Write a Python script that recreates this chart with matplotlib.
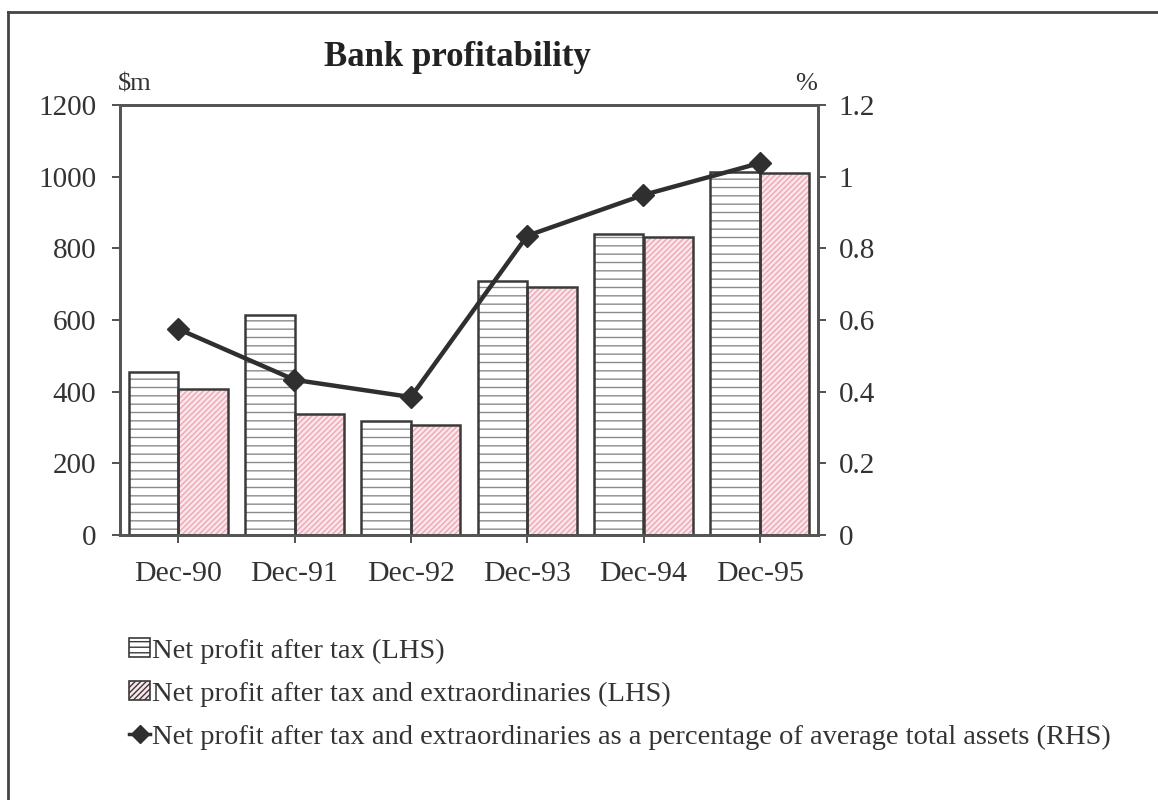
import numpy as np
import matplotlib
matplotlib.use('Agg')
import matplotlib.pyplot as plt
from matplotlib.patches import Patch
from matplotlib.lines import Line2D

plt.rcParams['font.family'] = ['Liberation Serif', 'DejaVu Serif']
plt.rcParams['hatch.linewidth'] = 1.0

categories = ['Dec-90', 'Dec-91', 'Dec-92', 'Dec-93', 'Dec-94', 'Dec-95']
profit_after_tax = [455, 614, 318, 709, 840, 1014]
profit_after_extra = [408, 338, 307, 693, 832, 1011]
pct_of_assets = [0.575, 0.433, 0.385, 0.835, 0.949, 1.038]

left_ticks = [0, 200, 400, 600, 800, 1000, 1200]
right_ticks = [0, 0.2, 0.4, 0.6, 0.8, 1.0, 1.2]
right_labels = ['0', '0.2', '0.4', '0.6', '0.8', '1', '1.2']

edge = '#3a3a3a'
grey_hatch = '#8a8a8a'
pink_face = '#fbe6ea'
pink_hatch = '#eda8b4'
txt = '#333333'

fig = plt.figure(figsize=(11.58, 8), dpi=100)
ax = fig.add_axes([120 / 1158, 1 - 535 / 800, 698 / 1158, 430 / 800])

x = np.arange(len(categories))
w = 0.425

# grey bars: horizontal line hatch
ax.bar(x - w / 2, profit_after_tax, w, color='white', edgecolor=grey_hatch,
       hatch='--', linewidth=0, zorder=2)
ax.bar(x - w / 2, profit_after_tax, w, fill=False, edgecolor=edge,
       linewidth=1.8, zorder=3)
# pink bars: dotted diagonal hatch
ax.bar(x + w / 2, profit_after_extra, w, color=pink_face, edgecolor=pink_hatch,
       hatch='//////', linewidth=0, zorder=2)
ax.bar(x + w / 2, profit_after_extra, w, fill=False, edgecolor=edge,
       linewidth=1.8, zorder=3)

ax.set_xlim(-0.5, len(categories) - 0.5)
ax.set_ylim(0, 1200)
ax.set_yticks(left_ticks)
ax.set_xticks(x)
ax.set_xticklabels(categories)
ax.tick_params(axis='both', labelsize=21, colors=txt, length=6,
               width=1.2, direction='out', pad=11)
ax.tick_params(axis='x', labelsize=21.5, pad=13)
for s in ax.spines.values():
    s.set_color('#555555')
    s.set_linewidth(2)

ax2 = ax.twinx()
ax2.plot(x, pct_of_assets, color='#2f2f2f', lw=3.2, marker='D', ms=11,
         zorder=5)
ax2.set_ylim(0, 1.2)
ax2.set_yticks(right_ticks)
ax2.set_yticklabels(right_labels)
ax2.tick_params(axis='y', labelsize=21, colors=txt, length=6,
                width=1.2, direction='out', pad=9)
for s in ax2.spines.values():
    s.set_color('#555555')
    s.set_linewidth(2)

fig.text(457 / 1158, 1 - 58 / 800, 'Bank profitability', fontsize=25,
         fontweight='bold', ha='center', va='center', color='#222222')
fig.text(118 / 1158, 1 - 84 / 800, '$m', fontsize=19, ha='left',
         va='center', color=txt)
fig.text(806 / 1158, 1 - 84 / 800, '%', fontsize=19, ha='center',
         va='center', color=txt)

handles = [
    Patch(facecolor='white', edgecolor=edge, hatch='---', linewidth=1.2),
    Patch(facecolor=pink_face, edgecolor=edge, hatch='//////', linewidth=1.2),
    Line2D([0], [0], color='#2f2f2f', lw=2.5, marker='D', ms=9),
]
labels = [
    'Net profit after tax (LHS)',
    'Net profit after tax and extraordinaries (LHS)',
    'Net profit after tax and extraordinaries as a percentage of average total assets (RHS)',
]
leg = fig.legend(handles, labels, loc='upper left',
                 bbox_to_anchor=(129 / 1158, 1 - 638 / 800), frameon=False,
                 fontsize=20.5, handlelength=0.75, handleheight=0.65,
                 handletextpad=0.05, labelspacing=0.62, borderaxespad=0,
                 borderpad=0)
for t in leg.get_texts():
    t.set_color(txt)

# outer frame around the whole exhibit
fig.add_artist(Line2D([8 / 1158, 8 / 1158], [1 - 12 / 800, 0],
                      color='#444444', lw=2, transform=fig.transFigure))
fig.add_artist(Line2D([8 / 1158, 1], [1 - 12 / 800, 1 - 12 / 800],
                      color='#444444', lw=2, transform=fig.transFigure))

fig.savefig('out.png', dpi=100)
